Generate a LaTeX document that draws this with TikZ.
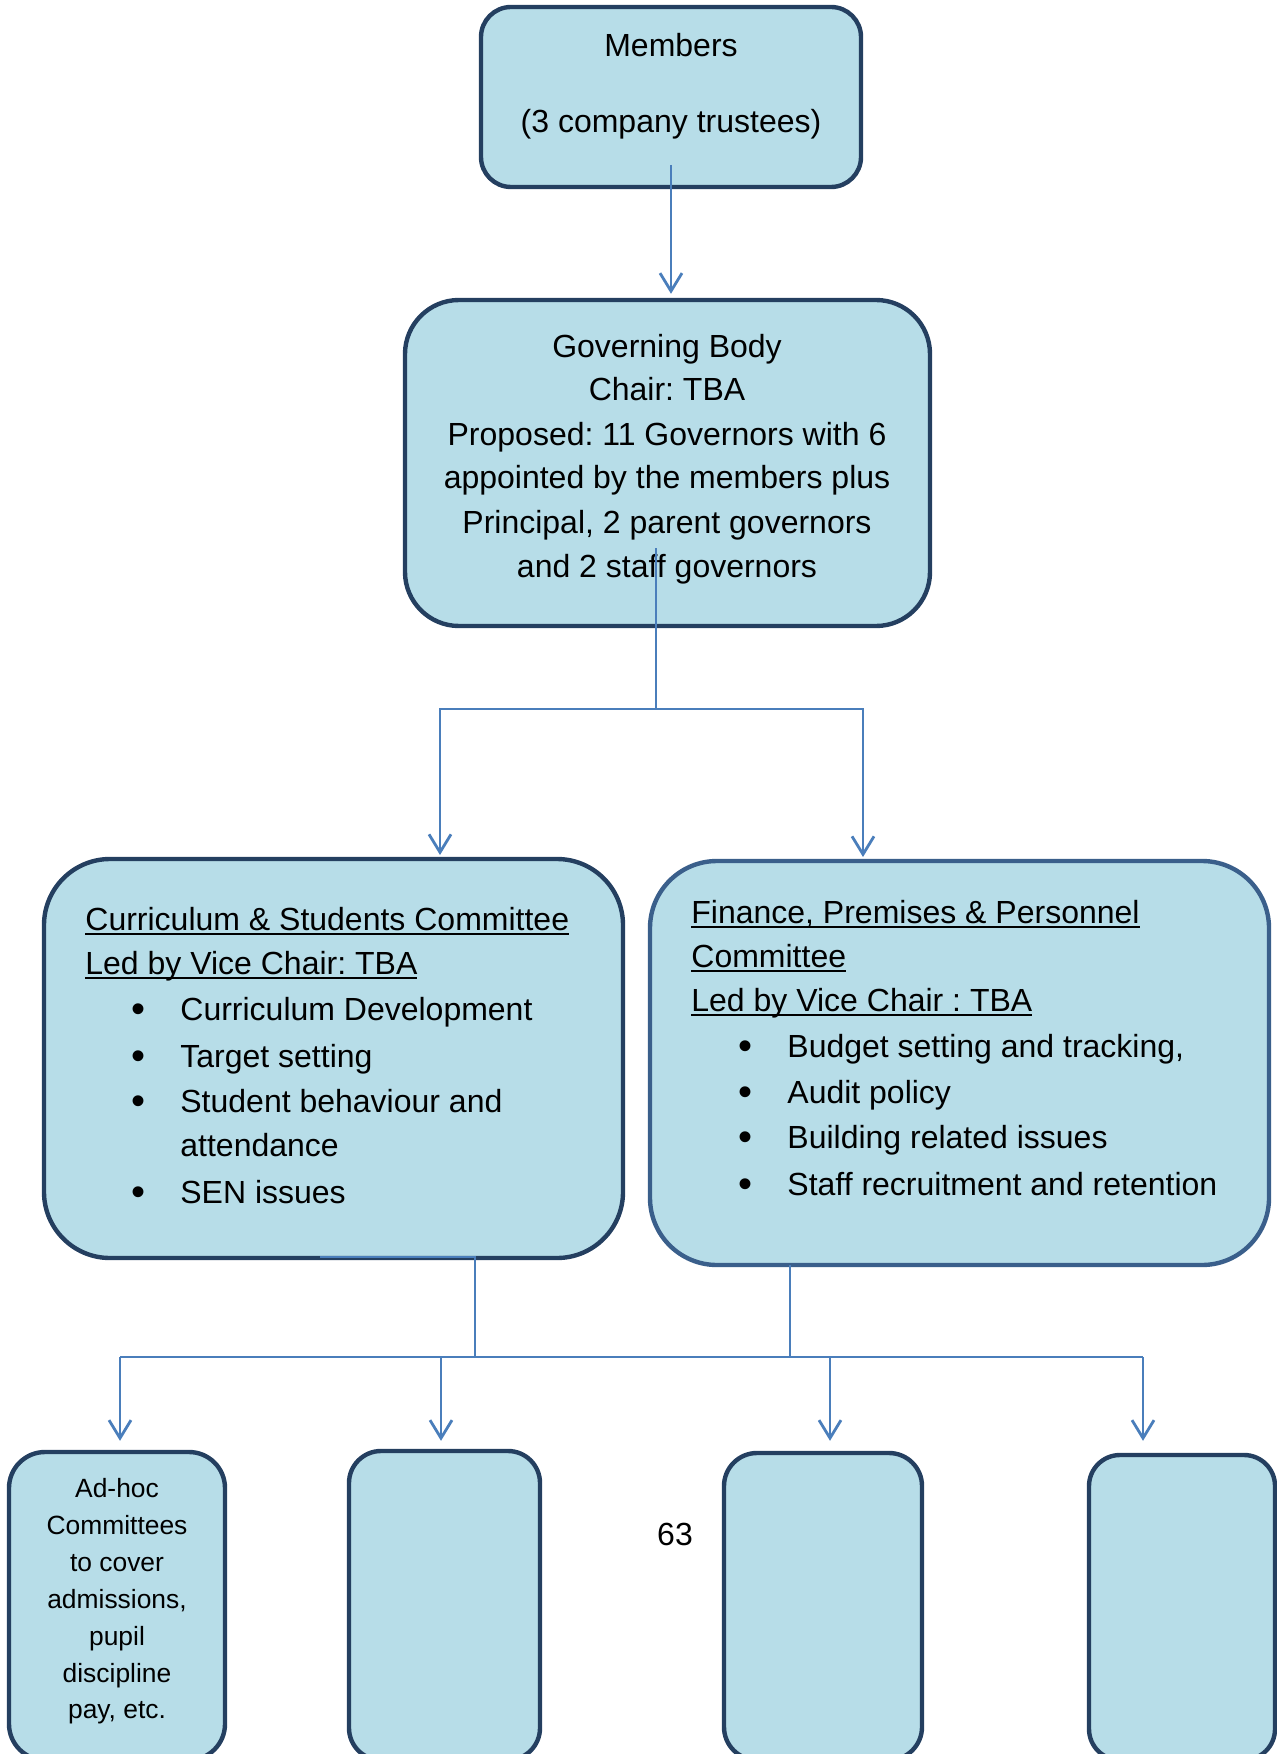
\documentclass[tikz,border=0pt]{standalone}
\usepackage{fontspec}
\setmainfont{Liberation Sans}
\usetikzlibrary{arrows.meta,calc}
\definecolor{boxfill}{HTML}{B7DDE8}
\definecolor{boxline}{HTML}{243F60}
\definecolor{boxlinetwo}{HTML}{3A5F8B}
\definecolor{connc}{HTML}{4A7EBB}
\frenchspacing
\newcommand\myul[1]{\setbox0\hbox{#1}\rlap{\rule[-2.6pt]{\wd0}{1.1pt}}\box0}
\newcommand\mybul{\raisebox{-1.4pt}{\scalebox{1.25}{•}}}
\tikzset{
  box/.style={draw=boxline, fill=boxfill, line width=2.2pt, inner sep=0pt},
  txt/.style={inner sep=0pt, font=\fontsize{16pt}{19pt}\selectfont},
  smalltxt/.style={inner sep=0pt, font=\fontsize{13.2pt}{16pt}\selectfont},
  conn/.style={draw=connc, line width=1.4pt},
  arr/.style={-{Straight Barb[length=9pt,width=11pt]}}
}
\begin{document}
\begin{tikzpicture}[x=0.5pt,y=-0.5pt]
\path[use as bounding box] (0,0) rectangle (1277,1754);
\clip (0,0) rectangle (1277,1754);

% boxes
\node[box, rounded corners=15pt, minimum width=190pt, minimum height=90pt] (mem) at (671,97) {};
\node[box, rounded corners=27pt, minimum width=262.5pt, minimum height=163pt] (gb) at (667.5,463) {};
\node[box, rounded corners=33pt, minimum width=289.5pt, minimum height=199.5pt] (cs) at (333.5,1058.5) {};
\node[box, draw=boxlinetwo, rounded corners=33.5pt, minimum width=309.5pt, minimum height=202pt] (fpp) at (959.5,1063) {};
\node[box, rounded corners=18pt, minimum width=108pt, minimum height=154pt] (b1) at (117,1606) {};
\node[box, rounded corners=16pt, minimum width=95.5pt, minimum height=154.5pt] (b2) at (444.5,1605.5) {};
\node[box, rounded corners=16.5pt, minimum width=99pt, minimum height=153.5pt] (b3) at (823,1606.5) {};
\node[box, rounded corners=15.5pt, minimum width=93pt, minimum height=152.5pt] (b4) at (1182,1607.5) {};

% Members text
\node[txt, anchor=base] (memA) at (671,57) {Members};
\node[txt, anchor=base] (memB) at (671,133) {(3 company trustees)};

% Governing body text
\node[txt, anchor=base] (gbA) at (667,358) {Governing Body};
\node[txt, anchor=base] (gbB) at (667,401) {Chair: TBA};
\node[txt, anchor=base] (gbC) at (667,445) {Proposed: 11 Governors with 6};
\node[txt, anchor=base] (gbD) at (667,488) {appointed by the members plus};
\node[txt, anchor=base] (gbE) at (667,533) {Principal, 2 parent governors};
\node[txt, anchor=base] (gbF) at (667,577) {and 2 staff governors};

% Curriculum committee text
\node[txt, anchor=base west] (csA) at (85,930) {\myul{Curriculum \& Students Committee}};
\node[txt, anchor=base west] (csB) at (85,974) {\myul{Led by Vice Chair: TBA}};
\node[txt, anchor=base] (csBu1) at (139,1020) {\mybul};
\node[txt, anchor=base west] (csC) at (180,1020) {Curriculum Development};
\node[txt, anchor=base] (csBu2) at (139,1067) {\mybul};
\node[txt, anchor=base west] (csD) at (180,1067) {Target setting};
\node[txt, anchor=base] (csBu3) at (139,1112) {\mybul};
\node[txt, anchor=base west] (csE) at (180,1112) {Student behaviour and};
\node[txt, anchor=base west] (csF) at (180,1156) {attendance};
\node[txt, anchor=base] (csBu4) at (139,1203) {\mybul};
\node[txt, anchor=base west] (csG) at (180,1203) {SEN issues};

% Finance committee text
\node[txt, anchor=base west] (fpA) at (691,923) {\myul{Finance, Premises \& Personnel}};
\node[txt, anchor=base west] (fpB) at (691,967) {\myul{Committee}};
\node[txt, anchor=base west] (fpC) at (691,1011) {\myul{Led by Vice Chair : TBA}};
\node[txt, anchor=base] (fpBu1) at (745,1057) {\mybul};
\node[txt, anchor=base west] (fpD) at (787,1057) {Budget setting and tracking,};
\node[txt, anchor=base] (fpBu2) at (745,1103) {\mybul};
\node[txt, anchor=base west] (fpE) at (787,1103) {Audit policy};
\node[txt, anchor=base] (fpBu3) at (745,1148) {\mybul};
\node[txt, anchor=base west] (fpF) at (787,1148) {Building related issues};
\node[txt, anchor=base] (fpBu4) at (745,1195) {\mybul};
\node[txt, anchor=base west] (fpG) at (787,1195) {Staff recruitment and retention};

% Ad-hoc text
\node[smalltxt, anchor=base] (adA) at (117,1497) {Ad-hoc};
\node[smalltxt, anchor=base] (adB) at (117,1534) {Committees};
\node[smalltxt, anchor=base] (adC) at (117,1571) {to cover};
\node[smalltxt, anchor=base] (adD) at (117,1608) {admissions,};
\node[smalltxt, anchor=base] (adE) at (117,1645) {pupil};
\node[smalltxt, anchor=base] (adF) at (117,1682) {discipline};
\node[smalltxt, anchor=base] (adG) at (117,1718) {pay, etc.};

% page number
\node[txt, anchor=base] (pnum) at (675,1545) {63};

% connectors
\coordinate (m1) at (671,165);
\draw[conn, arr, shorten >=2pt] (m1) -- (m1 |- gb.north);

\coordinate (g1) at (656,548);
\coordinate (g2) at (656,709);
\coordinate (csT) at (440,859);
\coordinate (fpT) at (863,862);
\draw[conn] (g1) -- (g2);
\draw[conn, arr, shorten >=2pt] (g2) -| (csT);
\draw[conn, arr, shorten >=2.5pt] (g2) -| (fpT);

\coordinate (l1) at (320,1257);
\coordinate (l2) at (475,1257);
\coordinate (l3) at (475,1357);
\coordinate (r1) at (790,1265);
\coordinate (r2) at (790,1357);
\coordinate (h1) at (120,1357);
\coordinate (h2) at (1143,1357);
\coordinate (k2) at (441,1357);
\coordinate (k3) at (830,1357);
\draw[conn] (l1) -- (l2) -- (l3);
\draw[conn] (r1) -- (r2);
\draw[conn] (h1) -- (h2);
\draw[conn, arr, shorten >=4.5pt] (h1) -- (h1 |- b1.north);
\draw[conn, arr, shorten >=4pt] (k2) -- (k2 |- b2.north);
\draw[conn, arr, shorten >=5pt] (k3) -- (k3 |- b3.north);
\draw[conn, arr, shorten >=6pt] (h2) -- (h2 |- b4.north);
\end{tikzpicture}
\end{document}
